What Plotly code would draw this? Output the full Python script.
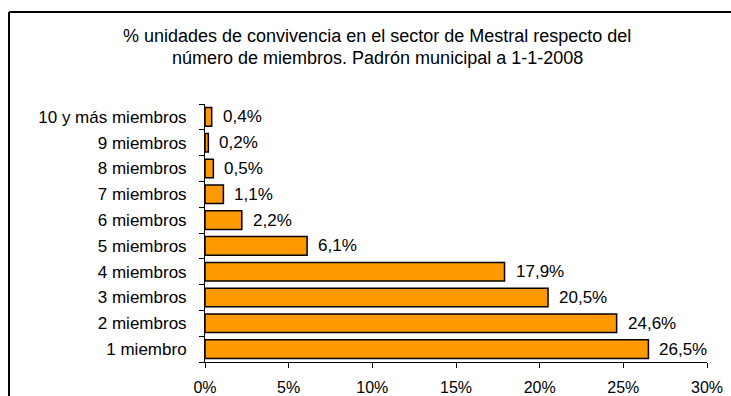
import plotly.graph_objects as go

# Household size categories (bottom to top) and share of households (%)
categorias = ["1 miembro", "2 miembros", "3 miembros", "4 miembros", "5 miembros",
              "6 miembros", "7 miembros", "8 miembros", "9 miembros", "10 y más miembros"]
porcentajes = [26.5, 24.6, 20.5, 17.9, 6.1, 2.2, 1.1, 0.5, 0.2, 0.4]
ticks_x = [0, 5, 10, 15, 20, 25, 30]
etiquetas_x = [f"{t}%" for t in ticks_x]

titulo_lineas = ["% unidades de convivencia en el sector de Mestral respecto del",
                 "número de miembros. Padrón municipal a 1-1-2008"]

FONT = "Liberation Sans, Arial, sans-serif"

W, H = 731, 396
L, R, T, B = 205, 24, 104, 34
pw, ph = W - L - R, H - T - B

def px_to_paper_x(px):
    return (px - L) / pw

def px_to_paper_y(py):
    return (H - B - py) / ph

fig = go.Figure(go.Bar(
    x=porcentajes,
    y=categorias,
    orientation="h",
    marker=dict(color="#FF9900", line=dict(color="#000000", width=1.5)),
    hoverinfo="skip",
))

# value labels written with a decimal comma, placed just past each bar end
annotations = [
    dict(x=v, y=c, xref="x", yref="y", text=f"{v:.1f}".replace(".", ",") + "%",
         showarrow=False, xanchor="left", yanchor="middle", xshift=9,
         font=dict(family=FONT, size=17, color="#000000"))
    for c, v in zip(categorias, porcentajes)
]

# two-line heading, centred over the chart frame
for i, linea in enumerate(titulo_lineas):
    annotations.append(dict(
        x=px_to_paper_x(377), y=px_to_paper_y(36 + 22 * i), xref="paper", yref="paper",
        text=linea, showarrow=False, xanchor="center", yanchor="middle",
        font=dict(family=FONT, size=18, color="#000000")))

# outer frame (left and top edges fall inside the page)
frame = dict(color="#000000", width=2)
shapes = [
    dict(type="line", xref="paper", yref="paper",
         x0=px_to_paper_x(9), x1=px_to_paper_x(9),
         y0=px_to_paper_y(12), y1=px_to_paper_y(H), line=frame),
    dict(type="line", xref="paper", yref="paper",
         x0=px_to_paper_x(9), x1=px_to_paper_x(W),
         y0=px_to_paper_y(12), y1=px_to_paper_y(12), line=frame),
]

fig.update_layout(
    width=W, height=H,
    margin=dict(l=L, r=R, t=T, b=B, autoexpand=False),
    paper_bgcolor="white", plot_bgcolor="white",
    bargap=0.28,
    showlegend=False,
    font=dict(family=FONT, size=17, color="#000000"),
    xaxis=dict(range=[0, 30], tickvals=ticks_x, ticktext=etiquetas_x,
               tickfont=dict(size=16), automargin=False,
               showgrid=False, zeroline=False, showline=True, linecolor="#000000",
               linewidth=1, ticks="outside", ticklen=5, tickcolor="#000000",
               ticklabelstandoff=6, fixedrange=True),
    yaxis=dict(range=[-0.5, 9.5], showgrid=False, zeroline=False, showline=True,
               linecolor="#000000", linewidth=1, ticks="outside", ticklen=5,
               tickcolor="#000000", tickson="boundaries", ticklabelstandoff=14,
               tickfont=dict(size=17), automargin=False, fixedrange=True),
    annotations=annotations,
    shapes=shapes,
)

fig.write_html("out.html", config={"displayModeBar": False})
